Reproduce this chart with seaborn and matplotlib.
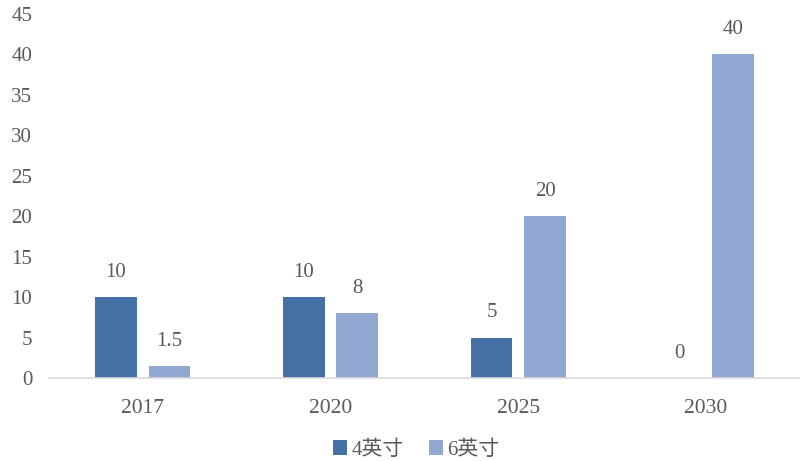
import matplotlib
matplotlib.use('Agg')
import matplotlib.pyplot as plt
import seaborn as sns
import pandas as pd

# 数据
years = ['2017', '2020', '2025', '2030']
size_4 = [10, 10, 5, 0]
size_6 = [1.5, 8, 20, 40]
series = ['4英寸', '6英寸']
colors = ['#4470A6', '#91A9D2']

df = pd.DataFrame({
    'year': years * 2,
    'value': size_4 + size_6,
    'size': [series[0]] * 4 + [series[1]] * 4,
})

sns.set_style('white')
plt.rcParams['font.family'] = ['Liberation Serif', 'Noto Sans CJK SC']
text_color = '#595959'

fig = plt.figure(figsize=(8, 4.61), dpi=100)
ax = fig.add_axes([0.061, 0.18, 0.939, 0.7907])

sns.barplot(data=df, x='year', y='value', hue='size', palette=colors,
            width=0.57, gap=0.22, saturation=1, linewidth=0,
            legend=True, ax=ax)

for cont in ax.containers:
    ax.bar_label(cont, fmt='%g', padding=11, fontsize=15, color=text_color)

ax.set_ylim(0, 45)
ax.set_yticks(range(0, 46, 5))
ax.set_xlim(-0.5, 3.5)
ax.set_xlabel('')
ax.set_ylabel('')
for s in ['top', 'right', 'left']:
    ax.spines[s].set_visible(False)
ax.spines['bottom'].set_color('#D9D9D9')
ax.spines['bottom'].set_linewidth(1.2)
ax.tick_params(axis='y', length=0, pad=12, labelsize=15, labelcolor=text_color)
ax.tick_params(axis='x', length=0, pad=15, labelsize=15.5, labelcolor=text_color)

handles, labels = ax.get_legend_handles_labels()
ax.get_legend().remove()
fig.legend(handles, labels, loc='center', bbox_to_anchor=(0.52, 0.024),
           ncol=2, frameon=False, fontsize=15, handlelength=0.7,
           handleheight=0.7, handletextpad=0.2, columnspacing=1.2,
           labelcolor=text_color)

fig.savefig('out.png', dpi=100)
